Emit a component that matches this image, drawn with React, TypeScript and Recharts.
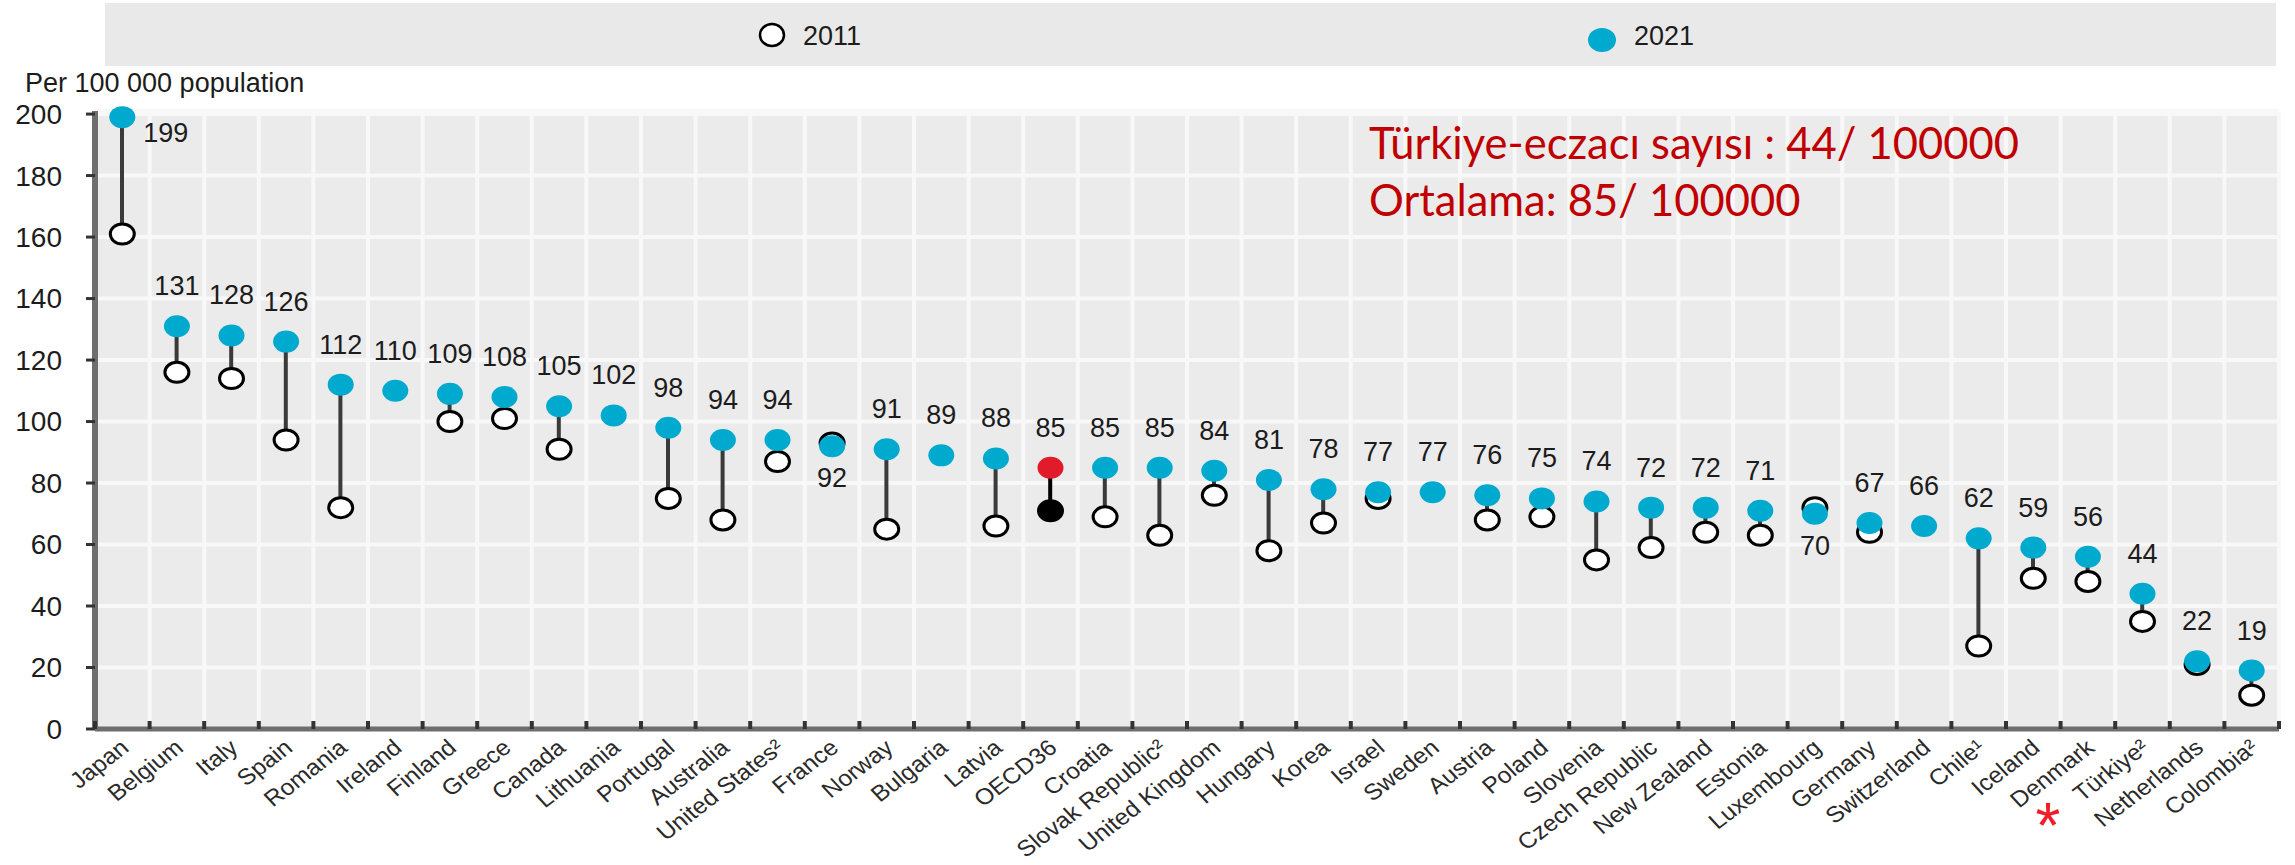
import React from 'react';
import { ComposedChart, Bar, Line, XAxis, YAxis, CartesianGrid, Cell, LabelList } from 'recharts';

const countries = [
  'Japan', 'Belgium', 'Italy', 'Spain', 'Romania', 'Ireland', 'Finland', 'Greece', 'Canada', 'Lithuania',
  'Portugal', 'Australia', 'United States²', 'France', 'Norway', 'Bulgaria', 'Latvia', 'OECD36', 'Croatia',
  'Slovak Republic²', 'United Kingdom', 'Hungary', 'Korea', 'Israel', 'Sweden', 'Austria', 'Poland', 'Slovenia',
  'Czech Republic', 'New Zealand', 'Estonia', 'Luxembourg', 'Germany', 'Switzerland', 'Chile¹', 'Iceland',
  'Denmark', 'Türkiye²', 'Netherlands', 'Colombia²',
];

const values2021 = [
  199, 131, 128, 126, 112, 110, 109, 108, 105, 102,
  98, 94, 94, 92, 91, 89, 88, 85, 85,
  85, 84, 81, 78, 77, 77, 76, 75, 74,
  72, 72, 71, 70, 67, 66, 62, 59,
  56, 44, 22, 19,
];

const values2011 = [
  161, 116, 114, 94, 72, null, 100, 101, 91, null,
  75, 68, 87, 93, 65, null, 66, 71, 69,
  63, 76, 58, 67, 75, null, 68, 69, 55,
  59, 64, 63, 72, 64, null, 27, 49,
  48, 35, 21, 11,
];

const yTicks = [0, 20, 40, 60, 80, 100, 120, 140, 160, 180, 200];

const legendLabels = ['2011', '2021'];
const noteLines = ['Türkiye-eczacı sayısı : 44/ 100000', 'Ortalama: 85/ 100000'];
const unitLabel = 'Per 100 000 population';
const averageName = 'OECD36';

const W = 2295;
const H = 865;
const PLOT_LEFT = 95;
const PLOT_RIGHT = 2279;
const PLOT_TOP = 111;
const PLOT_BOTTOM = 729;
const YAXIS_W = 80;
const XAXIS_H = 120;
const BAND = (PLOT_RIGHT - PLOT_LEFT) / countries.length;

const BLUE = '#00a9ce';
const RED = '#e21b2a';
const STEM = '#3a3a3a';
const FONT = '"Liberation Sans", Arial, sans-serif';
const TEXT = '#1c1c1c';

const data = countries.map((country, i) => ({
  country,
  y2011: values2011[i],
  y2021: values2021[i],
}));

const gridX = Array.from({ length: countries.length + 1 }, (_, i) => PLOT_LEFT + i * BAND);

// the source picture is stretched sideways a little, so the slanted labels get a slight horizontal scale
function XTick(props: any) {
  const { x, payload, index } = props;
  const last = index === countries.length - 1;
  return (
    <g>
      <line x1={x - BAND / 2} x2={x - BAND / 2} y1={PLOT_BOTTOM - 8} y2={PLOT_BOTTOM} stroke="#333" strokeWidth={4} />
      {last && (
        <line x1={x + BAND / 2} x2={x + BAND / 2} y1={PLOT_BOTTOM - 8} y2={PLOT_BOTTOM} stroke="#333" strokeWidth={4} />
      )}
      <text
        transform={`translate(${x + 8},${PLOT_BOTTOM + 21}) scale(1.1,1) rotate(-40)`}
        textAnchor="end"
        fontSize={22.5}
        fontFamily={FONT}
        fill="#2a2a2a"
      >
        {payload.value}
      </text>
    </g>
  );
}

function Dot2011(props: any) {
  const { cx, cy, payload, index } = props;
  if (cx == null || cy == null || payload.y2011 == null) return <g key={`d11-${index}`} />;
  const avg = payload.country === averageName;
  return (
    <ellipse
      key={`d11-${index}`}
      cx={cx}
      cy={cy}
      rx={12}
      ry={10}
      fill={avg ? '#000' : '#fff'}
      stroke="#000"
      strokeWidth={3}
    />
  );
}

function Dot2021(props: any) {
  const { cx, cy, payload, index } = props;
  if (cx == null || cy == null) return <g key={`d21-${index}`} />;
  const avg = payload.country === averageName;
  return <ellipse key={`d21-${index}`} cx={cx} cy={cy} rx={13} ry={11} fill={avg ? RED : BLUE} />;
}

function ValueLabel(props: any) {
  const { x, y, value, index } = props;
  if (x == null || y == null) return null;
  const old = values2011[index];
  let tx = x;
  let ty = y - 40;
  let anchor: 'middle' | 'start' = 'middle';
  if (value > 190) {
    tx = x + 21;
    ty = y + 16;
    anchor = 'start';
  } else if (old != null && old > value) {
    ty = y + 32;
  }
  return (
    <text x={tx} y={ty} textAnchor={anchor} dominantBaseline="central" fontSize={27} fontFamily={FONT} fill={TEXT}>
      {value}
    </text>
  );
}

export default function App() {
  return (
    <div style={{ position: 'relative', width: W, height: H }}>
      <style>{'body{margin:0;background:#fff;}'}</style>
      <ComposedChart
        width={W}
        height={H}
        data={data}
        margin={{ top: PLOT_TOP, right: W - PLOT_RIGHT, bottom: H - PLOT_BOTTOM - XAXIS_H, left: PLOT_LEFT - YAXIS_W }}
      >
        <CartesianGrid fill="#ebebeb" stroke="#f8f8f8" strokeWidth={4} verticalPoints={gridX} />
        <XAxis
          dataKey="country"
          interval={0}
          height={XAXIS_H}
          tickLine={false}
          axisLine={{ stroke: '#6e6e6e', strokeWidth: 5 }}
          tick={(p: any) => <XTick {...p} />}
        />
        <YAxis
          width={YAXIS_W}
          domain={[0, 201]}
          ticks={yTicks}
          interval={0}
          tickSize={9}
          tickMargin={24}
          axisLine={{ stroke: '#6e6e6e', strokeWidth: 6 }}
          tickLine={{ stroke: '#333', strokeWidth: 3 }}
          tick={{ fontSize: 28, fontFamily: FONT, fill: TEXT }}
        />
        <Bar
          dataKey={(d: any) => (d.y2011 == null ? null : [Math.min(d.y2011, d.y2021), Math.max(d.y2011, d.y2021)])}
          barSize={4}
          fill={STEM}
          isAnimationActive={false}
        >
          {data.map((d, i) => (
            <Cell key={i} fill={d.country === averageName ? '#000' : STEM} />
          ))}
        </Bar>
        <Line
          dataKey="y2011"
          stroke="none"
          dot={(p: any) => <Dot2011 {...p} />}
          activeDot={false}
          isAnimationActive={false}
        />
        <Line
          dataKey="y2021"
          stroke="none"
          dot={(p: any) => <Dot2021 {...p} />}
          activeDot={false}
          isAnimationActive={false}
        >
          <LabelList dataKey="y2021" content={(p: any) => <ValueLabel {...p} />} />
        </Line>
      </ComposedChart>
      <svg width={W} height={H} style={{ position: 'absolute', left: 0, top: 0, pointerEvents: 'none' }}>
        <rect x={105} y={3} width={2171} height={63} fill="#e9e9e9" />
        <ellipse cx={772} cy={35} rx={12} ry={11} fill="#fff" stroke="#000" strokeWidth={2.5} />
        <text x={803} y={45} fontSize={27} fontFamily={FONT} fill={TEXT}>{legendLabels[0]}</text>
        <ellipse cx={1602} cy={40} rx={14} ry={12} fill={BLUE} />
        <text x={1634} y={45} fontSize={27} fontFamily={FONT} fill={TEXT}>{legendLabels[1]}</text>
        <text x={25} y={92} fontSize={27} fontFamily={FONT} fill={TEXT}>{unitLabel}</text>
        <text x={1369} y={159} fontSize={43.5} fontFamily="Lato, sans-serif" fill="#c00000">{noteLines[0]}</text>
        <text x={1369} y={216} fontSize={43.5} fontFamily="Lato, sans-serif" fill="#c00000">{noteLines[1]}</text>
        <text x={2048} y={848} textAnchor="middle" fontSize={64} fontFamily={FONT} fill="#f01c28">*</text>
      </svg>
    </div>
  );
}
